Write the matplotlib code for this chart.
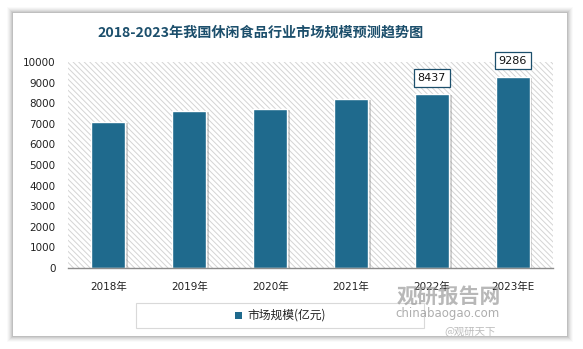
import numpy as np
import matplotlib.pyplot as plt
from matplotlib.patches import Rectangle

plt.rcParams['font.family'] = ['DejaVu Sans', 'Noto Sans CJK SC']
plt.rcParams['hatch.linewidth'] = 0.7

# data
years = ["2018年", "2019年", "2020年", "2021年", "2022年", "2023年E"]
market_size = [7100, 7610, 7730, 8220, 8437, 9286]
labelled = [4, 5]  # only the last two bars carry value labels

bar_color = "#1F6A8D"
title_color = "#1C4F6C"

W, H = 583, 349
fig = plt.figure(figsize=(W / 100, H / 100), dpi=100)
fig.patch.set_facecolor("white")

# card with soft grey shadow
cx0, cy0, cx1, cy1 = 13, 13, 567, 336
for i, a in enumerate([0.04, 0.06, 0.08, 0.11, 0.15, 0.2]):
    g = 6 - i
    fig.add_artist(Rectangle(((cx0 - g) / W, 1 - (cy1 + g) / H),
                             (cx1 - cx0 + 2 * g) / W, (cy1 - cy0 + 2 * g) / H,
                             transform=fig.transFigure, facecolor="#808080",
                             alpha=a, edgecolor="none", zorder=-10))
fig.add_artist(Rectangle((cx0 / W, 1 - cy1 / H), (cx1 - cx0) / W, (cy1 - cy0) / H,
                         transform=fig.transFigure, facecolor="white",
                         edgecolor="none", zorder=-9))

ax = fig.add_axes([68 / W, 1 - 268 / H, (553 - 68) / W, (268 - 62) / H])
ax.patch.set_alpha(0)
ax.add_patch(Rectangle((0, 0), 1, 1, transform=ax.transAxes, facecolor="white",
                       edgecolor="#d4d4d4", hatch="\\\\\\\\\\\\", lw=0, zorder=0))

x = np.arange(len(years))
w = 0.42
# shadows
ax.bar(x + 0.035, np.array(market_size) - 60, w, bottom=0, color="#7a7a7a",
       alpha=0.35, zorder=1)
bars = ax.bar(x, market_size, w, color=bar_color, edgecolor="white", linewidth=1.0,
              zorder=2)

for i in labelled:
    ax.annotate(f"{market_size[i]}", (x[i], market_size[i]), xytext=(0, 8),
                textcoords="offset points", ha="center", va="bottom", fontsize=8,
                color="#111111", zorder=5,
                bbox=dict(boxstyle="square,pad=0.35", facecolor="white",
                          edgecolor="#1C4F6C", linewidth=0.9))

ax.set_xlim(-0.5, len(years) - 0.5)
ax.set_ylim(0, 10000)
ax.set_yticks(range(0, 10001, 1000))
ax.set_xticks(x)
ax.set_xticklabels(years)
ax.tick_params(axis="both", length=0, labelsize=7.5, colors="#222222")
ax.tick_params(axis="y", pad=9)
ax.tick_params(axis="x", pad=10)
for s in ["top", "right", "left"]:
    ax.spines[s].set_visible(False)
ax.spines["bottom"].set_color("#8c8c8c")
ax.spines["bottom"].set_linewidth(1.0)
ax.spines["bottom"].set_zorder(3)

fig.text(261 / W, 1 - 33 / H, "2018-2023年我国休闲食品行业市场规模预测趋势图",
         ha="center", va="center", fontsize=10.2, fontweight="bold",
         color=title_color, family=["Noto Sans CJK SC", "DejaVu Sans"])

# legend box
fig.add_artist(Rectangle((136 / W, 1 - 328 / H), (424 - 136) / W, 25 / H,
                         transform=fig.transFigure, facecolor="white",
                         edgecolor="#d9d9d9", lw=0.8, zorder=1))
fig.add_artist(Rectangle((235 / W, 1 - 319 / H), 7 / W, 7 / H,
                         transform=fig.transFigure, facecolor=bar_color,
                         edgecolor="none", zorder=2))
fig.text(247 / W, 1 - 315.5 / H, "市场规模(亿元)", ha="left", va="center",
         fontsize=8.5, color="#222222", family=["Noto Sans CJK SC", "DejaVu Sans"],
         zorder=2)

# watermark
fig.text(449 / W, 1 - 296 / H, "观研报告网", ha="center", va="center", fontsize=15,
         fontweight="bold", color="#9a9a9a", alpha=0.7,
         family=["Noto Sans CJK SC"], zorder=6)
fig.text(448 / W, 1 - 314 / H, "chinabaogao.com", ha="center", va="center",
         fontsize=8.5, color="#9a9a9a", alpha=0.8, zorder=6)
fig.text(470 / W, 1 - 331 / H, "@观研天下", ha="center", va="center", fontsize=7.5,
         color="#bdbdbd", family=["Noto Sans CJK SC", "DejaVu Sans"], zorder=6)

fig.savefig("out.png", dpi=100)
